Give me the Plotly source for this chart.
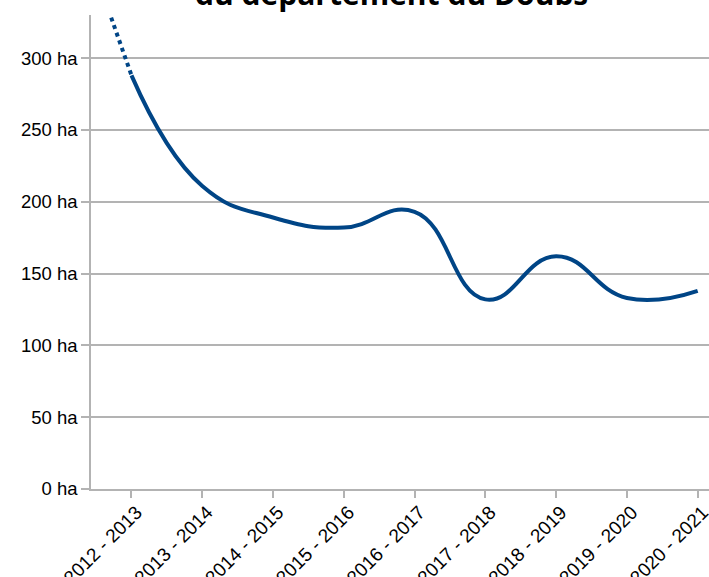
import plotly.graph_objects as go

categories = ["2012 - 2013", "2013 - 2014", "2014 - 2015", "2015 - 2016", "2016 - 2017",
              "2017 - 2018", "2018 - 2019", "2019 - 2020", "2020 - 2021"]
surfaces = [288, 211, 189, 182, 193, 132, 162, 133, 138]
# previous season (off the visible chart, only its dotted link is seen)
prev_value = 428

y_ticks = [0, 50, 100, 150, 200, 250, 300]
y_tick_labels = [f"{v} ha" for v in y_ticks]
title_text = "du département du Doubs"

LINE = "#004586"
GRID = "#b3b3b3"

x_idx = list(range(len(categories)))

fig = go.Figure()
fig.add_trace(go.Scatter(
    x=[-1, 0], y=[prev_value, surfaces[0]],
    mode="lines", line=dict(color=LINE, width=4, dash="dot"),
    hoverinfo="skip", showlegend=False,
))
fig.add_trace(go.Scatter(
    x=x_idx, y=surfaces,
    mode="lines", line=dict(color=LINE, width=4, shape="spline", smoothing=1.3),
    showlegend=False,
))

fig.update_layout(
    width=709, height=577, autosize=False,
    margin=dict(l=91, r=0, t=15, b=88, pad=0, autoexpand=False),
    paper_bgcolor="white", plot_bgcolor="white",
    font=dict(family="Liberation Sans", size=18, color="black"),
    annotations=[dict(
        text="<b>" + title_text + "</b>",
        xref="paper", yref="paper", x=(391 - 91) / 618, y=1 + 15 / 474,
        xanchor="center", yanchor="bottom", yshift=-16,
        showarrow=False,
        font=dict(family="Open Sans", size=30, color="black"),
    )],
)
fig.update_xaxes(
    range=[-0.572, 8.16], automargin=False,
    tickmode="array", tickvals=x_idx, ticktext=categories,
    tickangle=-45, ticklabelshift=5, ticklabelstandoff=-4,
    ticklabeloverflow="allow",
    tickfont=dict(family="Liberation Sans", size=19, color="black"),
    showgrid=False, zeroline=False,
    showline=True, linecolor=GRID, linewidth=1.5,
    ticks="outside", ticklen=7, tickcolor=GRID, tickwidth=1.5,
)
fig.update_yaxes(
    range=[0, 330], automargin=False,
    tickmode="array", tickvals=y_ticks, ticktext=y_tick_labels,
    tickfont=dict(family="Liberation Sans", size=18.5, color="black"),
    showgrid=True, gridcolor=GRID, gridwidth=1.5,
    zeroline=False,
    showline=True, linecolor=GRID, linewidth=1.5,
    ticks="outside", ticklen=8, tickcolor=GRID, tickwidth=1.5,
)

fig.write_html(
    "out.html",
    config={"displayModeBar": False},
    post_script="document.body.style.margin='0';document.body.style.overflow='hidden';",
)
